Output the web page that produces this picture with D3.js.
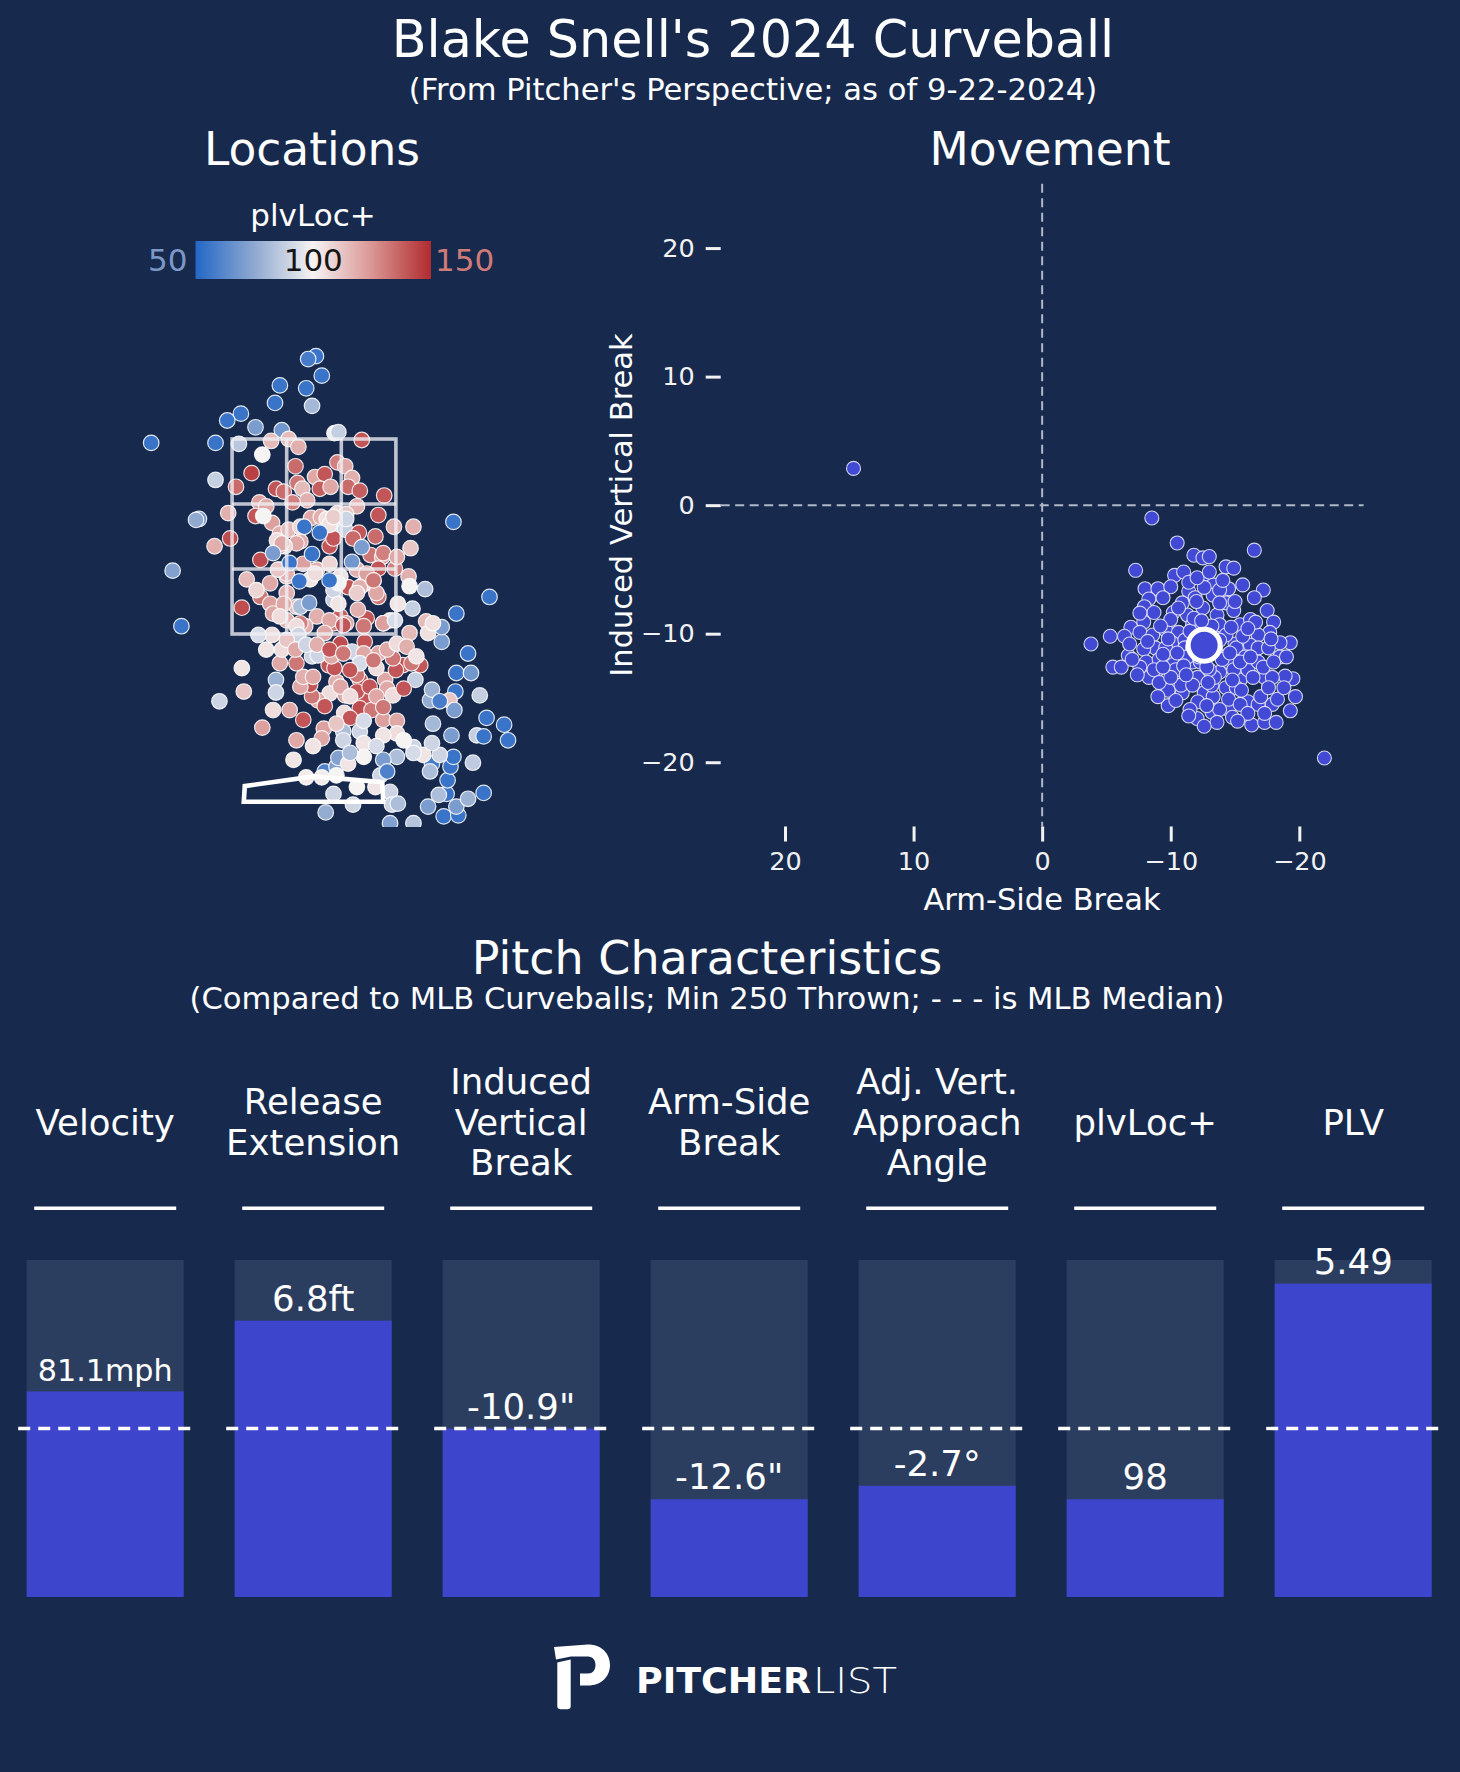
<!DOCTYPE html>
<html><head><meta charset="utf-8">
<script src="https://cdn.jsdelivr.net/npm/d3@7"></script>
<style>body{margin:0;background:#172a4e}svg{display:block}text{font-family:"DejaVu Sans",sans-serif}</style>
</head><body><svg id="c" width="1460" height="1772"></svg>
<script>
// ---------------- DATA ----------------
const titleText = "Blake Snell's 2024 Curveball";
const subtitleText = "(From Pitcher's Perspective; as of 9-22-2024)";
const colorbarTicks = [50, 100, 150];

// pitch locations: [plate x (ft, pitcher's view), plate z (ft), plvLoc+]
const locationPitches = [
[0.02,4.35,55],[-0.06,4.32,58],[0.08,4.15,55],[-0.35,4.05,55],[-0.08,4.02,55],[-0.02,3.84,80],[-0.40,3.87,55],
[-0.75,3.76,55],[-0.89,3.69,55],[-0.60,3.62,70],[-0.33,3.59,68],[-1.67,3.46,55],[-1.01,3.46,55],[-0.77,3.45,85],
[-0.53,3.34,100],[-0.44,3.48,115],[-0.26,3.50,115],[-0.16,3.42,118],[0.21,3.56,98],[0.25,3.57,88],[0.49,3.49,140],
[-0.64,3.15,145],[-1.01,3.08,88],[-0.80,3.01,135],[-0.19,3.22,135],[0.01,3.11,120],[0.11,3.14,140],[0.24,3.26,130],
[0.32,3.22,120],[0.39,3.10,118],[0.35,3.01,135],[0.47,2.97,138],[0.72,2.92,140],[-0.39,2.99,140],[-0.31,2.96,135],
[-0.17,3.05,132],[-0.12,2.99,115],[-0.07,2.87,118],[0.06,2.99,138],[0.17,3.01,120],[0.44,2.81,118],[-0.56,2.85,122],
[-0.49,2.81,120],[-0.22,2.85,130],[-1.18,2.68,68],[-1.21,2.67,75],[-0.88,2.74,118],[-0.60,2.71,140],[-0.43,2.64,122],
[-0.35,2.53,118],[-0.26,2.57,115],[-0.86,2.48,142],[-1.02,2.40,118],[-0.03,2.69,120],[0.07,2.70,118],
[0.24,2.74,108],[0.33,2.73,112],[0.20,2.60,90],[0.32,2.57,88],[0.46,2.54,140],[0.66,2.72,140],[0.63,2.50,135],
[0.82,2.60,118],[1.02,2.60,118],[0.99,2.38,112],[1.43,2.65,55],[-0.14,2.45,118],[0.16,2.40,140],
[-0.55,2.26,142],[-0.35,2.16,118],[0.58,2.31,132],[0.70,2.29,120],[0.83,2.17,130],[0.66,2.17,140],
[-0.69,2.06,115],[-1.45,2.15,72],[-0.55,1.88,132],[-0.45,1.81,122],[-0.28,1.92,118],[0.20,1.85,88],[0.35,1.98,140],
[0.51,2.01,105],[0.61,2.05,120],[0.66,1.88,132],[0.97,2.09,118],[0.98,1.99,100],[1.14,1.96,82],[1.80,1.88,55],
[-0.74,1.77,142],[0.20,1.95,90],[0.27,2.09,105],[0.44,2.16,118],[0.03,2.16,118],[-0.11,2.22,122],[0.16,2.22,108],
[-0.18,2.43,120],[-0.30,2.40,108],[0.20,2.48,140],[0.40,2.48,135],[0.33,2.68,90],[0.13,2.68,105],[-0.35,2.40,120],
[-0.28,2.09,118],[-0.45,2.02,120],[-0.59,1.95,108],[-0.18,1.78,115],[-0.28,1.64,118],[0.03,1.68,118],[0.27,1.68,138],
[0.54,1.66,140],[0.71,1.61,122],[0.20,1.61,132],[-0.09,1.58,118],[0.33,1.61,120],[0.45,1.75,118],[-0.42,1.71,120],
[-0.14,1.61,130],[1.15,1.63,115],
[-0.52,2.71,100],[-0.38,2.46,106],[-0.33,2.43,120],[-0.28,2.12,118],[-0.04,2.06,104],[0.16,2.62,105],[0.20,2.70,110],
[-0.14,2.60,108],[0.71,2.33,130],[0.85,2.29,120],[0.54,2.12,122],[0.47,1.98,118],[0.25,2.02,100],[0.01,2.12,106],
[-0.14,1.78,82],[0.25,1.81,104],[0.44,1.92,110],[0.64,1.92,120],[0.86,1.81,104],[-0.31,1.81,120],[-0.35,1.68,106],
[-0.18,1.58,106],[0.16,1.64,120],[0.78,1.64,106],[-0.37,2.16,112],[0.61,2.05,132],
[-1.36,1.58,55],[-0.74,1.15,104],[-0.72,0.91,112],[-0.97,0.81,90],[-0.53,0.54,122],[-0.39,1.03,78],[-0.39,0.90,90],
[0.10,0.53,122],[0.08,0.43,120],[0.30,0.50,82],[0.47,0.50,90],[0.11,0.09,60],[0.23,0.14,72],[0.25,0.23,72],
[0.35,0.17,104],[-0.08,0.03,102],[0.08,0.03,102],[0.23,0.05,100],[0.20,-0.14,90],[0.40,-0.25,90],[0.12,-0.33,76],
[0.44,-0.07,100],[0.63,-0.07,104],[0.68,0.05,90],[0.78,-0.12,90],[0.80,-0.25,90],[0.86,-0.24,82],[0.78,-0.44,72],
[1.02,-0.44,84],[1.17,-0.27,70],[1.33,-0.37,55],[1.48,-0.36,55],[1.46,-0.27,70],[1.58,-0.19,78],[1.36,-0.14,55],
[1.28,-0.15,82],[1.74,-0.13,55],[1.63,0.18,86],[1.37,0.00,55],[1.40,0.14,55],[1.43,0.24,55],[1.21,0.17,58],
[1.29,0.26,90],[1.19,0.09,82],[1.12,0.26,104],[1.02,0.34,90],[1.21,0.38,90],[1.22,0.58,80],[1.41,0.46,70],
[1.67,0.46,88],[1.74,0.45,55],[1.77,0.64,55],[1.95,0.57,55],[1.99,0.41,55],[1.70,0.87,88],[1.58,1.30,55],
[1.46,1.10,55],[1.61,1.10,68],[1.45,0.91,55],[1.39,0.82,112],[1.44,0.72,70],[1.19,0.82,76],[1.21,0.93,78],
[1.29,0.81,58],[1.31,1.42,70],[1.31,1.57,70],[1.46,1.71,55],[1.17,1.51,105],[1.22,1.61,105],[0.98,1.51,115],
[1.01,1.76,88],[1.04,1.03,88],[1.09,1.18,140],[0.91,1.18,140],[1.00,1.20,132],[0.73,1.03,120],[0.84,1.13,140],
[0.75,0.94,120],[0.81,0.87,106],[0.92,0.94,140],[0.47,1.03,140],[0.51,0.82,140],[0.47,0.74,142],[0.59,0.72,132],
[0.71,0.62,122],[0.85,0.61,120],[0.85,0.48,106],[0.71,0.46,104],[0.44,0.91,140],[0.31,0.69,106],[0.37,0.64,140],
[0.32,0.87,120],[0.23,1.01,118],[0.16,0.89,106],[0.04,0.82,120],[0.11,0.76,140],[-0.02,0.86,132],[-0.04,0.98,140],
[-0.14,0.96,120],[-0.11,1.06,118],[-0.01,1.06,120],[0.15,1.18,140],[0.21,1.15,140],[0.44,1.08,132],[0.64,1.15,106],
[0.27,1.40,142],[0.52,1.42,140],[0.39,1.32,90],[-0.02,1.27,90],[-0.18,1.20,132],[-0.35,1.20,120],[-0.33,1.34,106],
[-0.49,1.34,104],[-0.43,1.49,106],[-0.57,1.49,92],[-0.16,1.49,90],[0.04,1.28,90],[0.18,1.27,120],[0.11,1.51,120],
[0.30,1.59,140],[0.51,1.58,132],[0.71,1.61,122],[0.83,1.64,92],[0.66,1.30,120],[0.81,1.25,132],
[-0.28,1.44,112],[-0.19,1.34,120],[-0.08,1.39,90],[0.03,1.39,118],[0.16,1.34,140],[0.30,1.30,132],[0.51,1.30,120],
[0.47,1.20,92],[0.61,1.23,132],[0.75,1.34,120],[0.85,1.40,106],[0.95,1.37,118],[1.05,1.27,104],[0.37,1.13,140],
[0.27,0.96,120],[0.37,0.86,106],[0.57,0.96,140],[0.64,0.86,120],[0.71,0.75,132],[0.51,0.61,92],[0.30,0.41,90],
[0.51,0.38,104],[0.64,0.35,92],[0.92,0.41,100],[1.02,0.28,92],[0.85,0.24,82],[0.71,0.21,70],[0.75,0.09,60],
[0.51,0.24,100],[0.37,0.28,82],[-0.01,0.35,104],[-0.18,0.41,120],[-0.21,0.21,104],[-0.11,0.62,140],[-0.25,0.72,120],
[-0.42,0.72,106],[0.23,0.58,112],
[-0.10,2.60,55],[0.06,2.54,55],[0.39,2.24,68],[-0.15,2.04,55],[0.16,2.05,55],[-0.42,2.33,70],[-0.02,2.32,55],
[0.49,2.39,70],[-0.25,2.23,55],[-0.05,1.82,70]
];

// movement: [arm-side break (in), induced vertical break (in)]
const movementPitches = [
[14.67,2.86],[-8.53,-1.0],[-21.95,-19.67],[-10.5,-2.94],[-11.8,-3.9],[-12.5,-4.1],[-13.0,-4.0],[-16.5,-3.5],
[-7.27,-5.07],[-14.3,-4.8],[-14.9,-4.9],[-10.3,-5.46],[-11.0,-5.2],[-17.2,-6.6],[-16.5,-7.2],[-8.0,-6.5],[-9.0,-6.5],
[-10.0,-6.35],[-11.4,-6.7],[-12.8,-5.85],[-13.3,-6.2],[-14.5,-6.5],[-8.3,-7.3],[-17.5,-8.2],[-18.0,-9.1],[-7.95,-7.9],
[-8.7,-8.35],[-10.2,-8.35],[-11.3,-8.55],[-12.5,-8.0],[-13.6,-8.55],[-14.3,-7.6],[-14.9,-8.2],[-15.4,-9.3],[-6.9,-9.5],
[-7.9,-9.1],[-5.3,-10.2],[-6.4,-10.2],[-3.8,-10.8],[-7.6,-9.9],[-8.6,-10.1],[-9.6,-9.7],[-10.6,-9.9],[-10.1,-10.7],
[-8.8,-11.1],[-7.9,-11.2],[-6.7,-11.7],[-8.1,-12.2],[-9.1,-12.0],[-5.5,-12.6],[-6.15,-12.6],[-8.9,-12.9],[-10.2,-12.4],
[-10.8,-13.4],[-9.8,-14.4],[-10.9,-14.6],[-12.1,-13.4],[-12.6,-14.6],[-13.3,-14.9],[-9.8,-15.6],[-12.05,-16.6],
[-13.2,-16.1],[-14.5,-15.9],[-14.8,-16.5],[-14.3,-14.2],[-15.4,-13.6],[-16.0,-12.8],[-16.8,-12.2],[-17.3,-13.4],
[-16.0,-15.3],[-16.3,-17.1],[-17.3,-16.9],[-18.2,-16.9],[-16.8,-15.5],[-17.9,-15.5],[-18.3,-15.1],[-19.3,-16.0],
[-19.7,-14.9],[-19.5,-13.5],[-18.9,-13.3],[-17.9,-13.4],[-18.5,-11.8],[-19.3,-10.7],[-18.5,-10.7],[-17.7,-9.9],
[-16.8,-10.1],[-16.2,-10.9],[-15.0,-10.8],[-16.2,-8.9],[-13.8,-9.3],[-13.0,-9.5],[-11.7,-9.3],[-11.1,-10.5],
[-13.6,-11.5],[-14.5,-12.2],[-13.8,-13.0],[-11.7,-12.2],[-14.9,-12.8],[-11.1,-11.1],[-15.1,-11.1],[-17.0,-14.9],
[-15.1,-14.2],[-13.2,-14.0],[-12.1,-15.3],[-14.5,-15.1],[-8.3,-13.4],[-8.7,-12.8],[-10.8,-14.0],[-10.0,-8.9],
[-10.9,-7.6],[-11.9,-7.2],[-13.3,-7.0],[-13.8,-6.6],[-14.05,-5.85],[-12.6,-6.4],[-11.4,-6.0],[-12.05,-5.65],
[-13.8,-7.6],[-16.6,-9.1],[-15.8,-11.8],[-16.8,-11.1],[-17.6,-11.1],[-16.4,-13.4],[-15.5,-14.4],[-13.8,-15.9],
[-12.8,-15.6],[-11.5,-15.9],[-9.1,-13.8],[-7.6,-12.6],[-7.0,-12.0],[-9.6,-11.1],[-10.4,-12.8],[-11.7,-14.0],
[-13.4,-13.4],[-15.4,-15.5],[-17.3,-16.2],[-11.7,-11.1],[-14.3,-10.1],[-14.7,-9.5],[-13.4,-10.3],[-12.3,-12.2],
[-13.0,-12.8],[-10.0,-13.4],[-9.4,-12.6],[-11.3,-11.8],[-15.4,-12.2],
[-11.5,-9.8],[-12.0,-10.5],[-13.5,-11.2],[-12.2,-11.8],[-13.8,-10.5],[-11.0,-12.5],[-14.0,-12.0],[-12.8,-12.6],
[-11.8,-8.8],[-13.2,-9.4],[-10.5,-11.5],[-14.6,-11.5],[-12.4,-9.0],[-9.2,-9.4],[-9.8,-10.4],[-8.2,-10.6],
[-15.6,-10.2],[-16.0,-9.6],[-14.8,-13.6],[-12.9,-13.8],[-11.2,-13.2],[-9.4,-11.6],[-10.6,-8.0],[-12.0,-7.5],
[-15.0,-7.5],[-16.2,-11.8],[-17.2,-12.6],[-18.0,-12.2],[-17.6,-14.2],[-16.0,-16.2],[-13.6,-16.9],[-11.4,-16.4],
[-10.4,-15.2],[-9.0,-14.9],[-7.4,-13.2],[-6.8,-10.8],[-7.6,-8.4],[-9.4,-7.2],[-15.6,-6.2],[-13.0,-5.2],
[-17.8,-10.4],[-19.0,-11.8],[-18.8,-14.2],[-15.2,-16.8],[-12.6,-17.2]
];
const movementMean = [-12.6, -10.9];
const movementTicks = [20, 10, 0, -10, -20];

// pitch characteristics
const metricNames = [["Velocity"],["Release","Extension"],["Induced","Vertical","Break"],["Arm-Side","Break"],
  ["Adj. Vert.","Approach","Angle"],["plvLoc+"],["PLV"]];
const metricLabels = ["81.1mph","6.8ft","-10.9\"","-12.6\"","-2.7°","98","5.49"];
const metricPercentiles = [61, 82, 50, 29, 33, 29, 93];
const medianPercentile = 50;

// ---------------- DRAW ----------------
const W = 1460, H = 1772;
const BG = "#172a4e", BARBG = "#2c3e60", BLUE = "#3d45cc", WHITE = "#ffffff";
const svg = d3.select("#c");
svg.append("rect").attr("width", W).attr("height", H).attr("fill", BG);

function label(x, y, s, size, o = {}) {
  return svg.append("text").attr("x", x).attr("y", y).attr("text-anchor", o.anchor || "middle")
    .attr("font-size", size).attr("fill", o.fill || WHITE).attr("font-weight", o.weight || "normal").text(s);
}

label(753, 57, titleText, 50.8);
label(753, 100, subtitleText, 30.6);
label(312, 165, "Locations", 45.5);
label(1050, 165, "Movement", 45.5);

// ---- colour scale / colorbar
const colorScale = d3.scaleLinear().domain([50, 75, 100, 125, 150])
  .range(["#2367c6", "#90a9d0", "#f6f3f3", "#d99593", "#b12b2f"]).clamp(true);
const defs = svg.append("defs");
const grad = defs.append("linearGradient").attr("id", "cb").attr("x1", "0%").attr("x2", "100%");
d3.range(0, 1.0001, 0.05).forEach(t => grad.append("stop").attr("offset", (t * 100) + "%")
  .attr("stop-color", colorScale(50 + 100 * t)));
const cbScale = d3.scaleLinear().domain([50, 150]).range([195.5, 431]);
label(313, 226, "plvLoc+", 31);
svg.append("rect").attr("x", cbScale(50)).attr("y", 241).attr("width", cbScale(150) - cbScale(50))
  .attr("height", 38).attr("fill", "url(#cb)");
label(cbScale(50) - 8, 271, colorbarTicks[0], 31, {anchor: "end", fill: "#7d98c4"});
label(cbScale(100), 271, colorbarTicks[1], 31, {fill: "#151515"});
label(cbScale(150) + 4, 271, colorbarTicks[2], 31, {anchor: "start", fill: "#cf7b78"});

// ---- Locations
const lx = d3.scaleLinear().domain([-1, 1]).range([314 - 97.5, 314 + 97.5]);
const lz = d3.scaleLinear().domain([1.5, 3.5]).range([634, 439]);
defs.append("clipPath").attr("id", "locclip").append("rect").attr("x", 0).attr("y", 0)
  .attr("width", 700).attr("height", 827);
const gLoc = svg.append("g").attr("clip-path", "url(#locclip)");
gLoc.selectAll("circle").data(locationPitches).join("circle")
  .attr("cx", d => lx(d[0])).attr("cy", d => lz(d[1])).attr("r", 7.8)
  .attr("fill", d => colorScale(d[2])).attr("stroke", "rgba(255,255,255,0.85)").attr("stroke-width", 1.2);

// strike zone 3x3
const zx0 = -0.84, zx1 = 0.84, zz0 = 1.5, zz1 = 3.5;
const gZone = svg.append("g").attr("stroke", "rgba(240,240,245,0.78)").attr("stroke-width", 3.6).attr("fill", "none");
gZone.append("rect").attr("x", lx(zx0)).attr("y", lz(zz1)).attr("width", lx(zx1) - lx(zx0)).attr("height", lz(zz0) - lz(zz1));
[1, 2].forEach(k => {
  const xv = zx0 + (zx1 - zx0) * k / 3, zv = zz0 + (zz1 - zz0) * k / 3;
  gZone.append("line").attr("x1", lx(xv)).attr("x2", lx(xv)).attr("y1", lz(zz0)).attr("y2", lz(zz1));
  gZone.append("line").attr("x1", lx(zx0)).attr("x2", lx(zx1)).attr("y1", lz(zv)).attr("y2", lz(zv));
});
// home plate (pitcher's perspective)
const plate = [[-0.71, -0.06], [0.0, 0.04], [0.70, -0.02], [0.71, -0.22], [-0.72, -0.22]];
svg.append("path").attr("d", d3.line().x(d => lx(d[0])).y(d => lz(d[1])).curve(d3.curveLinearClosed)(plate))
  .attr("fill", "none").attr("stroke", WHITE).attr("stroke-width", 4.6).attr("stroke-linejoin", "miter");

// ---- Movement
const mx = d3.scaleLinear().domain([25, -25]).range([720.7, 1363.6]);
const my = d3.scaleLinear().domain([-25, 25]).range([826.5, 183.8]);
const gMv = svg.append("g");
gMv.append("line").attr("x1", mx(25)).attr("x2", mx(-25)).attr("y1", my(0)).attr("y2", my(0))
  .attr("stroke", "#b0b7c6").attr("stroke-width", 2).attr("stroke-dasharray", "9,5.5");
gMv.append("line").attr("x1", mx(0)).attr("x2", mx(0)).attr("y1", my(25)).attr("y2", my(-25))
  .attr("stroke", "#b0b7c6").attr("stroke-width", 2).attr("stroke-dasharray", "9,5.5");

const axB = svg.append("g").attr("transform", `translate(0,${my(-25)})`)
  .call(d3.axisBottom(mx).tickValues(movementTicks).tickSize(15).tickPadding(10.5));
const axL = svg.append("g").attr("transform", `translate(${mx(25)},0)`)
  .call(d3.axisLeft(my).tickValues(movementTicks).tickSize(15).tickPadding(11));
[axB, axL].forEach(a => {
  a.select(".domain").remove();
  a.selectAll(".tick line").attr("stroke", "#f2f2f2").attr("stroke-width", 3);
  a.selectAll(".tick text").attr("fill", "#f2f2f2").attr("font-size", 25.5).attr("font-family", "DejaVu Sans");
});
label(1042, 910, "Arm-Side Break", 30.5);
svg.append("text").attr("transform", "translate(632,505) rotate(-90)").attr("text-anchor", "middle")
  .attr("font-size", 30.5).attr("fill", WHITE).text("Induced Vertical Break");

gMv.selectAll("circle.p").data(movementPitches).join("circle").attr("class", "p")
  .attr("cx", d => mx(d[0])).attr("cy", d => my(d[1])).attr("r", 7)
  .attr("fill", "#4249d4").attr("stroke", "rgba(228,228,250,0.9)").attr("stroke-width", 1.1);
gMv.append("circle").attr("cx", mx(movementMean[0])).attr("cy", my(movementMean[1])).attr("r", 16)
  .attr("fill", "#4249d4").attr("stroke", WHITE).attr("stroke-width", 5);

// ---- Pitch characteristics
label(707, 974, "Pitch Characteristics", 46);
label(707, 1009, "(Compared to MLB Curveballs; Min 250 Thrown; - - - is MLB Median)", 30.6);

const bx = d3.scaleBand().domain(d3.range(metricNames.length)).range([26.7, 1431.7]).paddingInner(51 / 208).paddingOuter(0);
const by = d3.scaleLinear().domain([0, 100]).range([1597, 1260]);
const gBars = svg.append("g");
metricNames.forEach((lines, i) => {
  const x0 = bx(i), w = bx.bandwidth(), cx = x0 + w / 2;
  const n = lines.length, lh = 40.5, mid = 1122.5;
  lines.forEach((ln, j) => {
    const cy = mid + (j - (n - 1) / 2) * lh;
    label(cx, cy + 12, ln, 35.5);
  });
  gBars.append("line").attr("x1", cx - 71).attr("x2", cx + 71).attr("y1", 1208.3).attr("y2", 1208.3)
    .attr("stroke", WHITE).attr("stroke-width", 3.4);
  gBars.append("rect").attr("x", x0).attr("width", w).attr("y", by(100)).attr("height", by(0) - by(100)).attr("fill", BARBG);
  gBars.append("rect").attr("x", x0).attr("width", w).attr("y", by(metricPercentiles[i]))
    .attr("height", by(0) - by(metricPercentiles[i])).attr("fill", BLUE);
  gBars.append("line").attr("x1", x0 - 8.5).attr("x2", x0 + w + 8.5).attr("y1", by(medianPercentile)).attr("y2", by(medianPercentile))
    .attr("stroke", WHITE).attr("stroke-width", 3.3).attr("stroke-dasharray", "12,8");
  const t = label(cx, by(metricPercentiles[i]) - 10, metricLabels[i], 35.5);
  const tw = t.node().getComputedTextLength(), maxW = 0.86 * w;
  if (tw > maxW) t.attr("font-size", 35.5 * maxW / tw);
});

// ---- Logo
const gLogo = svg.append("g").attr("fill", WHITE);
gLogo.append("path").attr("d", "M554,1647 L588,1644.5 C601,1644.5 610,1653 610,1665 C610,1677 601,1685.5 588,1685.5 L580,1685.5 L580,1673.5 L588,1673.5 C592.5,1673.5 595.5,1670 595.5,1665 C595.5,1660 592.5,1656.5 588,1656.5 L571,1656.5 L556,1659.5 Z");
gLogo.append("path").attr("d", "M557.3,1662.5 L570.7,1659.5 L570.7,1706 Q570.7,1709.3 567.4,1709.3 L560.6,1709.3 Q557.3,1709.3 557.3,1706 Z");
gLogo.append("text").attr("x", 636).attr("y", 1693).attr("font-size", 36).attr("font-weight", 800)
  .attr("font-family", "Inter, Lato, sans-serif").attr("textLength", 175).attr("lengthAdjust", "spacingAndGlyphs").text("PITCHER");
gLogo.append("text").attr("x", 813).attr("y", 1693).attr("font-size", 36).attr("font-weight", 300)
  .attr("font-family", "Inter, Lato, sans-serif").attr("textLength", 84).attr("lengthAdjust", "spacingAndGlyphs").text("LIST");
</script></body></html>
